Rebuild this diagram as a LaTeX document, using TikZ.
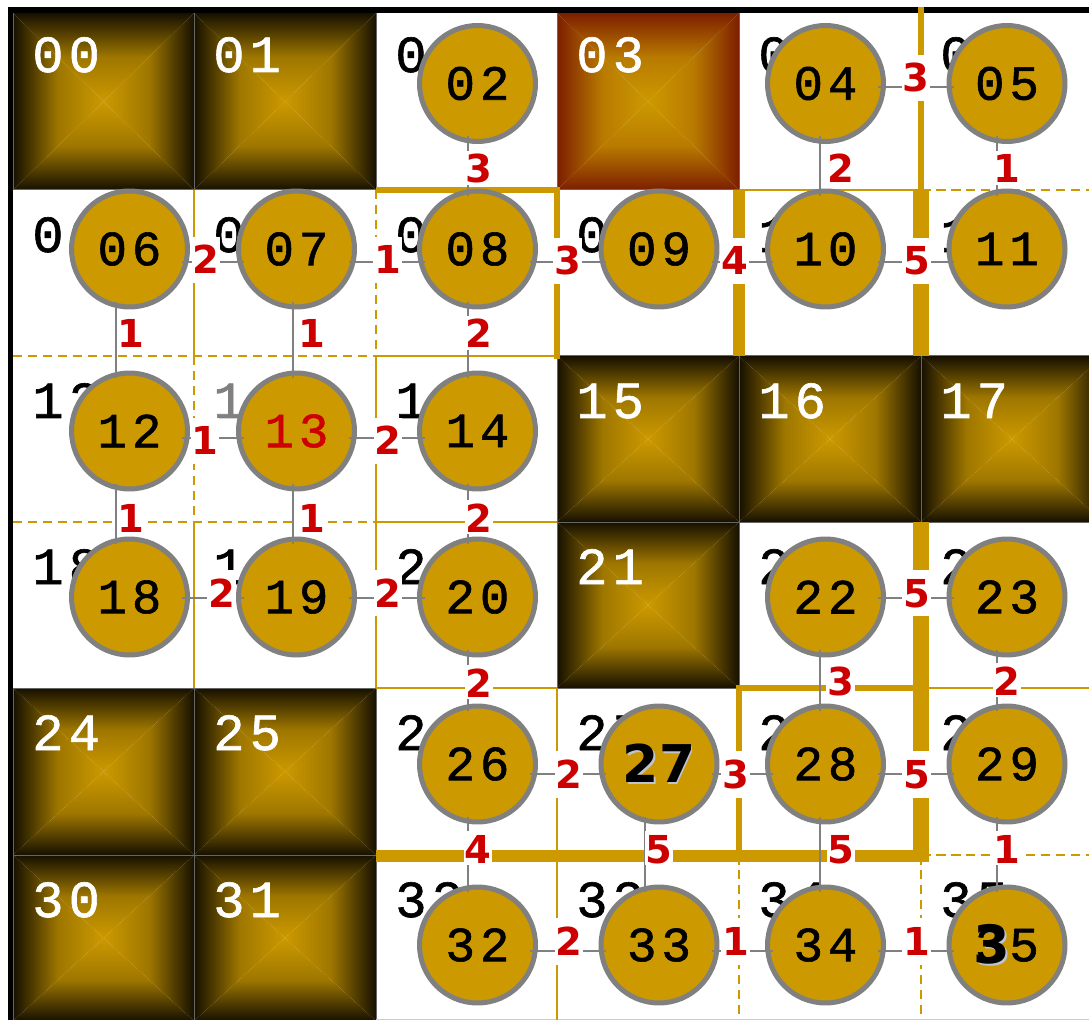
\documentclass[tikz,border=0pt]{standalone}
\usepackage{fontspec}
\usepackage{tikz}
\usetikzlibrary{calc}

\newfontfamily\monofamily[LetterSpace=10, FakeBold=1.2]{Liberation Mono}
\newfontfamily\wtfamily{DejaVu Sans}
\newcommand\ballfont{\monofamily\fontsize{28pt}{30pt}\selectfont}
\newcommand\tagfont{\monofamily\fontsize{29.6pt}{32pt}\selectfont}
\newcommand\wtfont{\wtfamily\bfseries\fontsize{21.9pt}{24pt}\selectfont}
\newcommand\markfont{\wtfamily\bfseries\fontsize{29.6pt}{32pt}\selectfont}
\newcommand\bigmarkfont{\wtfamily\bfseries\fontsize{30pt}{34pt}\selectfont}
\newcommand\shadowtxt[1]{\rlap{\kern1.1pt\raisebox{-1.1pt}{\textcolor{shadegrey}{#1}}}#1}

\definecolor{mzgold}{RGB}{204,153,0}
\definecolor{darkedge}{RGB}{22,16,0}
\definecolor{rededge}{RGB}{125,30,0}
\definecolor{ringgrey}{RGB}{128,128,128}
\definecolor{wtred}{RGB}{204,0,0}
\definecolor{shadegrey}{RGB}{190,196,208}

\tikzset{
    ball/.style={circle, fill=mzgold, draw=ringgrey, line width=0.1cm, minimum size=2.32cm, inner sep=0pt, font=\ballfont},
    celltag/.style={anchor=base west, inner sep=0pt, font=\tagfont},
    cellrim/.style={draw=black!60, line width=0.02cm},
    link/.style={draw=ringgrey, line width=0.04cm, shorten <=1.06cm, shorten >=1.06cm},
    weight/.style={fill=white, text=wtred, anchor=base, inner xsep=0.02cm, inner ysep=0pt, text height=0.75cm, text depth=0.19cm, font=\wtfont},
    vweight/.style={weight, text height=0.6cm, text depth=0pt, inner ysep=0.04cm},
    wall1/.style={draw=mzgold, line width=0.055cm, dash pattern=on 0.19cm off 0.11cm},
    wall2/.style={draw=mzgold, line width=0.05cm},
    wall3/.style={draw=mzgold, line width=0.115cm, line cap=rect},
    wall4/.style={draw=mzgold, line width=0.235cm},
    wall5/.style={draw=mzgold, line width=0.31cm}
}

\begin{document}
\begin{tikzpicture}[x=0.02cm, y=-0.02cm]
    \useasboundingbox (0,0) rectangle (1089,1020);
    \clip (0,0) rectangle (1089,1020);
    \fill[white] (0,0) rectangle (1089,1020);

    % Blocked cells
    \foreach \xa/\ya/\xb/\yb/\rim/\lbl in {13/13/194/190/darkedge/00, 194/13/376/190/darkedge/01,
        557/13/739/190/rededge/03, 557/356/739/522/darkedge/15, 739/356/921/522/darkedge/16,
        921/356/1103/522/darkedge/17, 557/522/739/688/darkedge/21, 13/688/194/855/darkedge/24,
        194/688/376/855/darkedge/25, 13/855/194/1021/darkedge/30, 194/855/376/1021/darkedge/31} {
        \pgfmathsetmacro\mx{(\xa+\xb)/2}
        \pgfmathsetmacro\my{(\ya+\yb)/2}
        \pgfmathsetmacro\yt{\ya<20 ? 72 : \ya+62}
        \shade[top color=\rim, bottom color=mzgold, middle color=mzgold!75!\rim] (\xa,\ya) -- (\xb,\ya) -- (\mx,\my) -- cycle;
        \shade[top color=mzgold, bottom color=\rim, middle color=mzgold!75!\rim] (\xa,\yb) -- (\xb,\yb) -- (\mx,\my) -- cycle;
        \shade[left color=\rim, right color=mzgold, middle color=mzgold!75!\rim] (\xa,\ya) -- (\xa,\yb) -- (\mx,\my) -- cycle;
        \shade[left color=mzgold, right color=\rim, middle color=mzgold!75!\rim] (\xb,\ya) -- (\xb,\yb) -- (\mx,\my) -- cycle;
        \draw[cellrim] (\xa,\ya) rectangle (\xb,\yb);
        \node[celltag, text=white] (t\lbl) at ({\xa+19},\yt) {\lbl};
    }

    % Frame
    \fill[black] (8,7) rectangle (1089,13);
    \fill[black] (8,7) rectangle (13,1020);
    \draw[black!20, line width=0.02cm] (376,1019.5) -- (1089,1019.5);

    % Walls, one style per weight
    \foreach \xa/\ya/\xb/\yb in {921/190/1089/190, 376/190/376/356, 13/356/376/356, 194/356/194/522,
        13/522/376/522, 921/855/1089/855, 739/855/739/1020, 921/855/921/1020}
        \draw[wall1] (\xa,\ya) -- (\xb,\yb);
    \foreach \xa/\ya/\xb/\yb in {739/190/921/190, 194/190/194/356, 376/356/557/356, 376/356/376/522,
        376/522/557/522, 194/522/194/688, 376/522/376/688, 376/688/557/688, 921/688/1089/688,
        557/688/557/855, 557/855/557/1020}
        \draw[wall2] (\xa,\ya) -- (\xb,\yb);
    \foreach \xa/\ya/\xb/\yb in {921/10/921/190, 379/190/557/190, 557/190/557/356, 739/688/921/688, 739/688/739/855}
        \draw[wall3] (\xa,\ya) -- (\xb,\yb);
    \draw[wall4] (739,190) -- (739,356);
    \draw[wall4] (376,856) -- (928,856);
    \draw[wall5] (921,190) -- (921,356);
    \draw[wall5] (921,522) -- (921,862);

    % Open cells
    \foreach \lbl/\xa/\ya in {02/376/10, 04/739/10, 05/921/10, 06/13/190, 07/194/190, 08/376/190,
        09/557/190, 10/739/190, 11/921/190, 12/13/356, 14/376/356, 18/13/522, 19/194/522, 20/376/522,
        22/739/522, 23/921/522, 26/376/688, 27/557/688, 28/739/688, 29/921/688, 32/376/855,
        33/557/855, 34/739/855, 35/921/855}
        \node[celltag] (t\lbl) at ({\xa+19},{\ya+62}) {\lbl};
    \node[celltag, text=ringgrey] (t13) at (213,418) {13};

    % Graph nodes
    \foreach \lbl/\x/\y in {02/477.5/83.5, 04/825.5/83.5, 05/1007/83.5, 06/129.5/249, 07/296.5/249,
        08/477.5/249, 09/659/249, 10/825.5/249, 11/1007/249, 12/129.5/431, 14/477.5/431,
        18/129.5/597, 19/296.5/597, 20/477.5/597, 22/825.5/597, 23/1007/597, 26/477.5/764,
        28/825.5/764, 29/1007/764, 32/477.5/945, 33/659/945, 34/825.5/945}
        \node[ball] (n\lbl) at (\x,\y) {\lbl};
    \node[ball, text=wtred] (n13) at (296.5,431) {13};
    \node[ball] (n27) at (659,764) {\markfont\shadowtxt{27}};
    \node[ball] (n35) at (1007,945) {\rlap{\smash{\kern-0.6pt\raisebox{-1.2pt}{\bigmarkfont\shadowtxt{3}}}}35};

    % Links along rows
    \foreach \a/\b/\dy/\w/\lx/\ly in {04/05/3.5/3/916/92, 06/07/13.5/2/206/274, 07/08/13.5/1/387.5/274,
        08/09/13.5/3/567.5/275, 09/10/13.5/4/734.5/275, 10/11/13.5/5/916.5/275, 12/13/7/1/205/455,
        13/14/7/2/388/455, 18/19/1/2/221.5/607, 19/20/1/2/388/607, 22/23/1/5/916.5/607,
        26/27/10/2/569/788, 27/28/10/3/735.5/788, 28/29/10/5/916.5/788, 32/33/6/2/569/955,
        33/34/6/1/735.5/955, 34/35/6/1/916.5/955} {
        \draw[link] ([yshift=-\dy*0.02cm]n\a.center) -- ([yshift=-\dy*0.02cm]n\b.center);
        \node[weight] (w\a\b) at (\lx,\ly) {\w};
    }

    % Links along columns
    \foreach \a/\b/\dx/\w/\lx/\ly in {02/08/-9.5/3/478.5/183, 08/14/-9.5/2/479/348, 14/20/-9.5/2/479/532,
        20/26/-9.5/2/479/697, 26/32/-9.5/4/478/863, 04/10/-5.5/2/841/183, 22/28/-5.5/3/840.5/695,
        28/34/-5.5/5/841/863, 05/11/-10.5/1/1007/183, 23/29/-10.5/2/1007/695, 29/35/-10.5/1/1007/863,
        06/12/-14/1/131/348, 12/18/-14/1/131/532, 07/13/-4/1/312/348, 13/19/-4/1/312/532,
        27/33/-14.5/5/659/863} {
        \draw[link] ([xshift=\dx*0.02cm]n\a.center) -- ([xshift=\dx*0.02cm]n\b.center);
        \node[vweight] (w\a\b) at (\lx,\ly) {\w};
    }
\end{tikzpicture}
\end{document}
